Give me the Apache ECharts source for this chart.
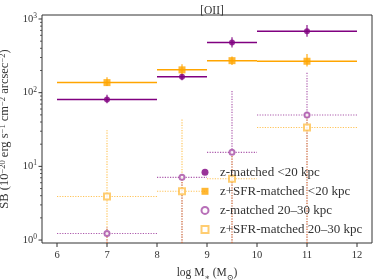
<!DOCTYPE html>
<html><head><meta charset="utf-8">
<script src="https://cdn.jsdelivr.net/npm/echarts@6/dist/echarts.min.js"></script>
<style>html,body{margin:0;padding:0;background:#fff}#c{width:374px;height:280px}</style>
</head><body><div id="c"></div>
<script>
// ---- data ----
const massBins = [7, 8.5, 9.5, 11];
const binLo = [6, 8, 9, 10];
const binHi = [8, 9, 10, 12];
const zIn = [81, 165, 478, 684];
const zInLo = [72, 148, 409, 575];
const zInHi = [94, 180, 566, 826];
const sfrIn = [137, 204, 272, 267];
const sfrInLo = [123, 174, 238, 226];
const sfrInHi = [162, 243, 309, 336];
const zOut = [1.23, 7.1, 15.5, 49.8];
const zOutLo = [0.1, 0.1, 0.1, 0.1];
const zOutHi = [1.5, 7.1, 106, 187];
const sfrOut = [3.9, 4.6, 6.8, 33.7];
const sfrOutLo = [0.1, 0.1, 0.1, 0.1];
const sfrOutHi = [31, 44, 15.5, 50];
const seriesNames = ['z-matched <20 kpc', 'z+SFR-matched <20 kpc', 'z-matched 20\u201330 kpc', 'z+SFR-matched 20\u201330 kpc'];
const xTicks = [6, 7, 8, 9, 10, 11, 12];
const yMajorTicks = [1, 10, 100, 1000];
const yMinorTicks = [2,3,4,5,6,7,8,9,20,30,40,50,60,70,80,90,200,300,400,500,600,700,800,900];

const FONT = '"Liberation Serif", "DejaVu Serif", serif';
const PURPLE = '#800080', ORANGE = '#FFA500';
const AXC = '#333';

function build(vals, lo, hi) {
  return massBins.map((m, i) => [m, vals[i], binLo[i], binHi[i], lo[i], hi[i]]);
}
function errRender(hStyle, vStyle) {
  return function (params, api) {
    const cs = params.coordSys;
    const x = api.value(0), y = api.value(1);
    const p = api.coord([x, y]);
    const pl = api.coord([api.value(2), y]);
    const ph = api.coord([api.value(3), y]);
    const top = cs.y, bot = cs.y + cs.height;
    const cy = v => Math.max(top, Math.min(bot, v));
    const vl = api.coord([x, api.value(4)]);
    const vh = api.coord([x, api.value(5)]);
    return { type: 'group', children: [
      { type: 'line', shape: { x1: p[0], y1: cy(vl[1]), x2: p[0], y2: cy(vh[1]) }, style: vStyle },
      { type: 'line', shape: { x1: pl[0], y1: p[1], x2: ph[0], y2: p[1] }, style: hStyle }
    ]};
  };
}
function errSeries(name, data, hStyle, vStyle) {
  return { type: 'custom', name: name, data: data, renderItem: errRender(hStyle, vStyle),
    encode: { x: 0, y: 1 }, silent: true, clip: true };
}
function markSeries(name, data, symbol, size, itemStyle) {
  return { type: 'scatter', name: name, data: data.map(d => [d[0], d[1]]), symbol: symbol,
    symbolSize: size, itemStyle: itemStyle, silent: true };
}

const dzIn = build(zIn, zInLo, zInHi);
const dsIn = build(sfrIn, sfrInLo, sfrInHi);
const dzOut = build(zOut, zOutLo, zOutHi);
const dsOut = build(sfrOut, sfrOutLo, sfrOutHi);

const solidH = c => ({ stroke: c, lineWidth: 1.5 });
const solidV = c => ({ stroke: c, lineWidth: 2, opacity: 0.55 });
const dotH = c => ({ stroke: c, lineWidth: 1.1, lineDash: [1.2, 1.4], opacity: 0.65 });
const dotV = c => ({ stroke: c, lineWidth: 1.1, lineDash: [1.2, 1.4], opacity: 0.7 });

const yTickSeries = {
  type: 'custom', silent: true, clip: false,
  data: yMajorTicks.map(v => [6, v, 1]).concat(yMinorTicks.map(v => [6, v, 0])),
  encode: { x: 0, y: 1 },
  renderItem: function (params, api) {
    const cs = params.coordSys;
    const p = api.coord([api.value(0), api.value(1)]);
    const len = api.value(2) ? 3.5 : 2;
    return { type: 'line', shape: { x1: cs.x - len, y1: p[1], x2: cs.x, y2: p[1] },
      style: { stroke: AXC, lineWidth: api.value(2) ? 1 : 0.8 } };
  }
};
const xTickSeries = {
  type: 'custom', silent: true, clip: false,
  data: xTicks.map(v => [v, 10]),
  encode: { x: 0, y: 1 },
  renderItem: function (params, api) {
    const cs = params.coordSys;
    const p = api.coord([api.value(0), api.value(1)]);
    const bot = cs.y + cs.height;
    return { type: 'group', children: [
      { type: 'line', shape: { x1: p[0], y1: bot, x2: p[0], y2: bot + 4 }, style: { stroke: AXC, lineWidth: 1 } },
      { type: 'text', x: p[0], y: bot + 7, style: { text: String(api.value(0)), align: 'center', verticalAlign: 'top',
        font: '10.5px ' + FONT, fill: AXC } }
    ]};
  }
};

const isPow = v => Math.abs(Math.log10(v) - Math.round(Math.log10(v))) < 1e-6;

const option = {
  animation: false,
  backgroundColor: '#fff',
  title: { text: '[OII]', left: 207, top: 0, textAlign: 'center',
    textStyle: { fontFamily: FONT, fontSize: 11.5, fontWeight: 'normal', color: AXC } },
  grid: { left: 42, right: 2, top: 15, bottom: 37, show: true, borderColor: AXC, borderWidth: 1,
    containLabel: false, outerBoundsMode: 'none' },
  legend: {
    orient: 'vertical', left: 200.5, top: 165.7, padding: 0, itemWidth: 7, itemHeight: 7, itemGap: 6.1,
    data: seriesNames,
    textStyle: { fontFamily: FONT, fontSize: 13, color: AXC, lineHeight: 12, padding: [0, 0, 0, 6.5] },
    selectedMode: false
  },
  xAxis: {
    type: 'value', min: 5.7, max: 12.3,
    splitLine: { show: false }, axisLine: { show: false }, axisTick: { show: false },
    axisLabel: { show: false },
    name: 'log M{sub|\u2217} (M{sub|\u2299})', nameLocation: 'middle', nameGap: 24,
    nameTextStyle: { fontFamily: FONT, fontSize: 11.5, color: AXC,
      rich: { sub: { fontFamily: FONT, fontSize: 8, verticalAlign: 'bottom', lineHeight: 8, color: AXC, padding: [0, 0, -3, 0] } } }
  },
  yAxis: {
    type: 'log', logBase: 10, min: 0.912, max: 1133,
    splitLine: { show: false }, axisLine: { show: false }, axisTick: { show: false }, minorTick: { show: false },
    axisLabel: { fontFamily: FONT, fontSize: 10.5, color: AXC, margin: 5,
      formatter: v => isPow(v) ? '{b|10}{s|' + Math.round(Math.log10(v)) + '}' : '',
      rich: { b: { fontFamily: FONT, fontSize: 10.5, color: AXC, lineHeight: 14 },
              s: { fontFamily: FONT, fontSize: 7.5, color: AXC, verticalAlign: 'top', lineHeight: 8 } } },
    name: 'SB (10{s|\u221220} erg s{s|\u22121} cm{s|\u22122} arcsec{s|\u22122})',
    nameLocation: 'middle', nameGap: 25, nameRotate: 90,
    nameTextStyle: { fontFamily: FONT, fontSize: 12.5, color: AXC, lineHeight: 14,
      rich: { s: { fontFamily: FONT, fontSize: 8.5, color: AXC, verticalAlign: 'top', lineHeight: 8 } } }
  },
  series: [
    errSeries('e0', dzIn, solidH(PURPLE), solidV(PURPLE)),
    markSeries(seriesNames[0], dzIn, 'circle', 6, { color: PURPLE }),
    errSeries('e1', dsIn, solidH(ORANGE), solidV(ORANGE)),
    markSeries(seriesNames[1], dsIn, 'rect', 7, { color: ORANGE }),
    errSeries('e2', dzOut, dotH(PURPLE), dotV(PURPLE)),
    markSeries(seriesNames[2], dzOut, 'emptyCircle', 5, { color: '#a64ca6', borderWidth: 1.2 }),
    errSeries('e3', dsOut, dotH(ORANGE), dotV(ORANGE)),
    markSeries(seriesNames[3], dsOut, 'emptyRect', 6, { color: '#ffc04d', borderWidth: 1.2 }),
    yTickSeries,
    xTickSeries
  ]
};
const chart = echarts.init(document.getElementById('c'), null, { renderer: 'canvas' });
chart.setOption(option);
</script>
</body></html>
